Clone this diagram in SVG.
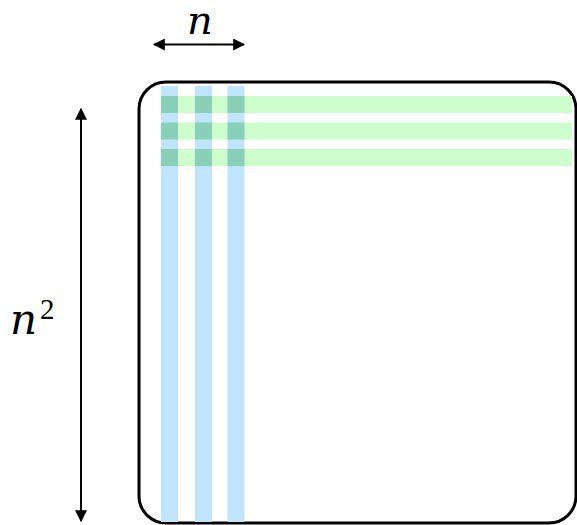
<svg xmlns="http://www.w3.org/2000/svg" width="577" height="525" viewBox="0 0 577 525">
<style>
.blue{fill:#bfe4fb}
.green{fill:#cdfccd}
.both{fill:#8ad0b8}
.ln{stroke:#000;stroke-width:2;fill:none}
.lbl{font-family:"DejaVu Serif","Liberation Serif",serif;font-style:italic;fill:#000}
</style>
<defs>
<marker id="ah" viewBox="0 0 10 10" refX="9" refY="5" markerWidth="6" markerHeight="6" orient="auto-start-reverse" markerUnits="strokeWidth">
<path d="M0,0 L10,5 L0,10 z" fill="#000"/>
</marker>
</defs>
<g id="matrix">
<rect x="139" y="82" width="437" height="441" rx="27" fill="#fff" stroke="#000" stroke-width="3"/>
<rect class="green" x="161" y="96" width="411" height="17"/>
<rect class="green" x="161" y="122.5" width="411" height="17"/>
<rect class="green" x="161" y="149" width="411" height="17"/>
<rect class="blue" x="161" y="86" width="17" height="436"/>
<rect class="blue" x="195" y="86" width="17" height="436"/>
<rect class="blue" x="227.5" y="86" width="17" height="436"/>
<rect class="both" x="161" y="96" width="17" height="17"/>
<rect class="both" x="195" y="96" width="17" height="17"/>
<rect class="both" x="227.5" y="96" width="17" height="17"/>
<rect class="both" x="161" y="122.5" width="17" height="17"/>
<rect class="both" x="195" y="122.5" width="17" height="17"/>
<rect class="both" x="227.5" y="122.5" width="17" height="17"/>
<rect class="both" x="161" y="149" width="17" height="17"/>
<rect class="both" x="195" y="149" width="17" height="17"/>
<rect class="both" x="227.5" y="149" width="17" height="17"/>
</g>
<g id="connectors">
<line class="ln" x1="154" y1="44.5" x2="244" y2="44.5" marker-start="url(#ah)" marker-end="url(#ah)"/>
<line class="ln" x1="81" y1="109" x2="81" y2="521" marker-start="url(#ah)" marker-end="url(#ah)"/>
</g>
<g id="label-n">
<text class="lbl" x="200" y="34" font-size="40" text-anchor="middle">n</text>
</g>
<g id="label-n2">
<text class="lbl" x="10" y="334" font-size="42">n<tspan font-size="29" font-style="normal" font-family="Liberation Serif, serif" dx="3" dy="-15">2</tspan></text>
</g>
</svg>
